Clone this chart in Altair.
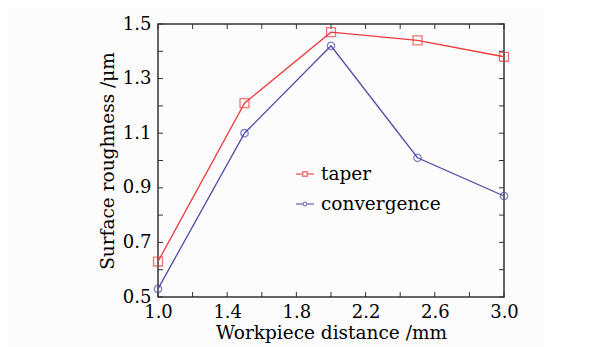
import altair as alt
import pandas as pd

distance = [1.0, 1.5, 2.0, 2.5, 3.0]
taper = [0.63, 1.21, 1.47, 1.44, 1.38]
convergence = [0.53, 1.10, 1.42, 1.01, 0.87]
series_names = ["taper", "convergence"]
series_colors = ["#ee3a3a", "#4c4ca8"]
x_ticks = [1.0, 1.2, 1.4, 1.6, 1.8, 2.0, 2.2, 2.4, 2.6, 2.8, 3.0]
y_ticks = [0.5, 0.6, 0.7, 0.8, 0.9, 1.0, 1.1, 1.2, 1.3, 1.4, 1.5]

W, H = 346, 273
FONT = "DejaVu Serif"

df = pd.concat([
    pd.DataFrame({"distance": distance, "roughness": taper, "series": "taper"}),
    pd.DataFrame({"distance": distance, "roughness": convergence, "series": "convergence"}),
])
xt = pd.DataFrame({"t": x_ticks})
yt = pd.DataFrame({"t": y_ticks})

xscale = alt.Scale(domain=[1.0, 3.0], nice=False, zero=False)
yscale = alt.Scale(domain=[0.5, 1.5], nice=False, zero=False)


def cscale():
    return alt.Scale(domain=series_names, range=series_colors)


xaxis = alt.Axis(values=x_ticks, format=".1f", ticks=False, domain=False, grid=False,
                 labelExpr="round(datum.value*10)%4==2 ? datum.label : ''",
                 labelFlush=False, labelOverlap=False,
                 labelFont=FONT, labelFontSize=18, labelColor="black",
                 titleFont=FONT, titleFontSize=18.5, titleFontWeight="normal", titleColor="black",
                 title="Workpiece distance /mm", labelPadding=6, titlePadding=2)
yaxis = alt.Axis(values=y_ticks, format=".1f", ticks=False, domain=False, grid=False,
                 labelExpr="round(datum.value*10)%2==1 ? datum.label : ''",
                 labelFlush=False, labelOverlap=False,
                 labelFont=FONT, labelFontSize=18, labelColor="black",
                 titleFont=FONT, titleFontSize=18.5, titleFontWeight="normal", titleColor="black",
                 title="Surface roughness /μm", labelPadding=7, titlePadding=5)

legend = alt.Legend(
    title=None, orient="none", legendX=137, legendY=140, padding=0,
    rowPadding=10, symbolSize=324, symbolStrokeWidth=1.3, labelOffset=6,
    symbolFillColor="transparent",
    labelFont=FONT, labelFontSize=18.5, labelColor="black",
)
legend_paths = [
    "M-1,0H-0.25M0.25,0H1M-0.25,-0.25H0.25V0.25H-0.25Z",
    "M-1,0H-0.2M0.2,0H1M-0.2,0A0.2,0.2 0 1,0 0.2,0A0.2,0.2 0 1,0 -0.2,0Z",
]

lines = alt.Chart(df).mark_line(strokeWidth=1.3).encode(
    x=alt.X("distance:Q", scale=xscale, axis=xaxis),
    y=alt.Y("roughness:Q", scale=yscale, axis=yaxis),
    color=alt.Color("series:N", scale=cscale(), legend=None),
    detail="series:N",
)
points = alt.Chart(df).mark_point(filled=False, strokeWidth=1.3).encode(
    x=alt.X("distance:Q", scale=xscale),
    y=alt.Y("roughness:Q", scale=yscale),
    color=alt.Color("series:N", scale=cscale(), legend=None),
    shape=alt.Shape("series:N", scale=alt.Scale(domain=series_names, range=["square", "circle"]), legend=None),
    size=alt.Size("series:N", scale=alt.Scale(domain=series_names, range=[80, 55]), legend=None),
)
legend_layer = alt.Chart(df).transform_filter("false").mark_point(filled=False, strokeWidth=1.3).encode(
    x=alt.X("distance:Q", scale=xscale),
    y=alt.Y("roughness:Q", scale=yscale),
    color=alt.Color("series:N", scale=cscale(), legend=legend),
    shape=alt.Shape("series:N", scale=alt.Scale(domain=series_names, range=legend_paths), legend=legend),
)

tick_col = "#333333"
bx = alt.Chart(xt).mark_rule(color=tick_col).encode(x=alt.X("t:Q", scale=xscale), y=alt.value(H), y2=alt.value(H - 5))
tx = alt.Chart(xt).mark_rule(color=tick_col).encode(x=alt.X("t:Q", scale=xscale), y=alt.value(0), y2=alt.value(5))
ly = alt.Chart(yt).mark_rule(color=tick_col).encode(y=alt.Y("t:Q", scale=yscale), x=alt.value(0), x2=alt.value(5))
ry = alt.Chart(yt).mark_rule(color=tick_col).encode(y=alt.Y("t:Q", scale=yscale), x=alt.value(W - 5), x2=alt.value(W))

chart = alt.layer(bx, tx, ly, ry, lines, points, legend_layer).resolve_scale(
    shape="independent", size="independent", color="independent"
).properties(
    width=W, height=H,
    autosize=alt.AutoSizeParams(type="none"),
    padding={"left": 150, "top": 16, "right": 40, "bottom": 50},
    background="#fcfcfc",
).configure_view(stroke="#333333", strokeWidth=1.5)

chart.save("out.html", embed_options={"renderer": "svg", "actions": False})
